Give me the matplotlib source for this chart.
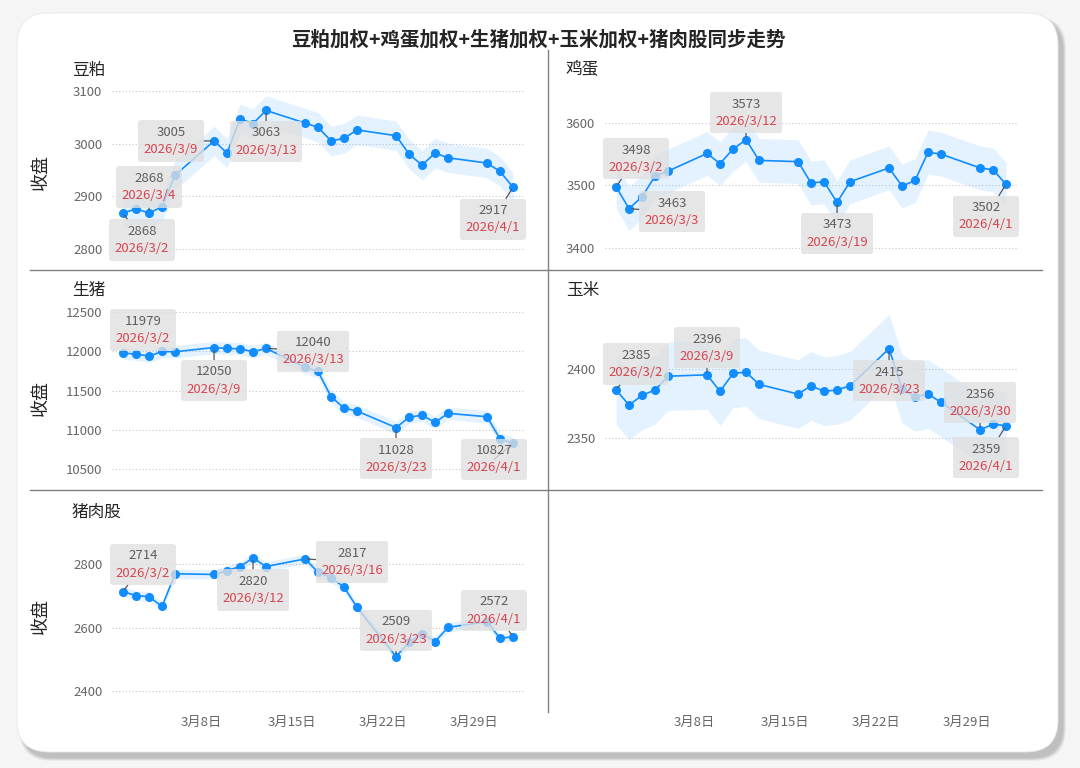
import pandas as pd
import matplotlib
matplotlib.use('Agg')
import matplotlib.pyplot as plt
import matplotlib.dates as mdates
from matplotlib.patches import FancyBboxPatch
from matplotlib.lines import Line2D
from matplotlib.offsetbox import AnnotationBbox, TextArea, VPacker
from matplotlib.ticker import MultipleLocator, FuncFormatter

plt.rcParams['font.family'] = ['Noto Sans CJK SC', 'DejaVu Sans']
plt.rcParams['axes.unicode_minus'] = False

# trading days 2026/3/2 - 2026/4/1
dates = pd.to_datetime([
    '2026-03-02', '2026-03-03', '2026-03-04', '2026-03-05', '2026-03-06',
    '2026-03-09', '2026-03-10', '2026-03-11', '2026-03-12', '2026-03-13',
    '2026-03-16', '2026-03-17', '2026-03-18', '2026-03-19', '2026-03-20',
    '2026-03-23', '2026-03-24', '2026-03-25', '2026-03-26', '2026-03-27',
    '2026-03-30', '2026-03-31', '2026-04-01'])

names = ['豆粕', '鸡蛋', '生猪', '玉米', '猪肉股']
soymeal = [2868, 2876, 2868, 2880, 2940, 3005, 2982, 3047, 3038, 3063,
           3039, 3031, 3005, 3010, 3026, 3015, 2980, 2959, 2982, 2973,
           2963, 2947, 2917]
eggs = [3498, 3463, 3482, 3515, 3523, 3551, 3535, 3558, 3573, 3540,
        3538, 3504, 3506, 3473, 3506, 3528, 3499, 3508, 3553, 3550,
        3528, 3525, 3502]
hogs = [11979, 11966, 11940, 12000, 11996, 12050, 12038, 12034, 11996, 12040,
        11796, 11745, 11422, 11278, 11239, 11028, 11159, 11188, 11095, 11210,
        11167, 10882, 10827]
corn = [2385, 2374, 2381, 2385, 2395, 2396, 2384, 2397, 2398, 2389,
        2382, 2388, 2384, 2385, 2388, 2415, 2386, 2380, 2382, 2376,
        2356, 2360, 2359]
pork_stocks = [2714, 2701, 2698, 2667, 2770, 2768, 2780, 2793, 2820, 2793,
               2817, 2775, 2758, 2728, 2664, 2509, 2554, 2581, 2556, 2601,
               2619, 2566, 2572]
series = [soymeal, eggs, hogs, corn, pork_stocks]
band_half = [28, 35, 80, 25, 15]

# layout: axes rect (pixels: left, top, right, bottom), y limits, tick step
PANEL_PX = [(112, 82, 525, 262), (605, 82, 1018, 262),
            (112, 302, 525, 482), (605, 302, 1018, 482),
            (112, 525, 525, 705)]
YLIMS = [(2775, 3117), (3378, 3665), (10334, 12631), (2318, 2449), (2356, 2924)]
YSTEP = [100, 100, 500, 50, 200]
TITLE_PX = [(72, 70), (566, 70), (72, 290), (566, 290), (72, 512)]
YLABEL_PY = [172, 398, 616]
# annotations: (index, dx, dy) in pixels, dy upward
ANNOTS = [
    [(0, 19, -27), (2, 0, 26), (5, -43, 0), (9, 0, -31), (22, -20, -32)],
    [(0, 20, 28), (1, 43, -3), (8, 0, 27), (13, 0, -31), (22, -20, -32)],
    [(0, 20, 23), (5, 0, -33), (9, 47, -3), (15, 0, -31), (22, -19, -16)],
    [(0, 20, 26), (5, 0, 27), (15, 0, -32), (20, 0, 27), (22, -20, -32)],
    [(0, 20, 27), (8, 0, -32), (10, 47, -3), (15, 0, 26), (22, -19, 26)],
]

W, H = 1080, 768
BLUE = '#118DFF'
XLIM = (mdates.date2num(dates[0]) - 0.85, mdates.date2num(dates[-1]) + 0.92)


def to_rect(px):
    l, t, r, b = px
    return [l / W, 1 - b / H, (r - l) / W, (b - t) / H]


def date_fmt(x, pos):
    d = mdates.num2date(x)
    return f'{d.month}月{d.day}日'


def style_axis(ax, show_x):
    for s in ax.spines.values():
        s.set_visible(False)
    ax.set_xlim(XLIM)
    ax.xaxis.set_major_locator(mdates.DayLocator(bymonthday=[8, 15, 22, 29]))
    ax.xaxis.set_major_formatter(FuncFormatter(date_fmt))
    ax.tick_params(axis='both', length=0, labelsize=9.5, colors='#666666')
    ax.tick_params(axis='y', pad=7)
    ax.tick_params(axis='x', pad=8)
    if not show_x:
        ax.tick_params(axis='x', labelbottom=False)
    ax.set_facecolor('none')


def draw_panel(ax, i):
    vals = series[i]
    lo = [v - band_half[i] for v in vals]
    hi = [v + band_half[i] for v in vals]
    ax.fill_between(dates, lo, hi, color=BLUE, alpha=0.11, lw=0, zorder=1)
    ax.plot(dates, vals, color=BLUE, lw=1.2, marker='o', ms=5.5, zorder=3)
    ax.set_ylim(YLIMS[i])
    ax.yaxis.set_major_locator(MultipleLocator(YSTEP[i]))
    ax.yaxis.set_major_formatter(FuncFormatter(lambda v, p: f'{v:.0f}'))
    ax.grid(axis='y', color='#c8c8c8', ls=(0, (1, 2)), lw=0.8)
    ax.set_axisbelow(True)
    for idx, dx, dy in ANNOTS[i]:
        d = dates[idx]
        val_txt = TextArea(f'{vals[idx]}', textprops=dict(fontsize=9.5, color='#605E5C'))
        date_txt = TextArea(f'{d.year}/{d.month}/{d.day}',
                            textprops=dict(fontsize=9.5, color='#D64550'))
        pack = VPacker(children=[val_txt, date_txt], align='center', pad=0, sep=3)
        ab = AnnotationBbox(pack, (d, vals[idx]), xybox=(dx, dy),
                            boxcoords='offset pixels', box_alignment=(0.5, 0.5),
                            frameon=True, pad=0.4,
                            bboxprops=dict(boxstyle='round,pad=0.4,rounding_size=0.2',
                                           fc='#e0e0e0', ec='none', alpha=0.78),
                            arrowprops=dict(arrowstyle='-', color='#555555', lw=0.9,
                                            shrinkA=0, shrinkB=2),
                            zorder=4, annotation_clip=False)
        ax.add_artist(ab)


fig = plt.figure(figsize=(W / 100, H / 100), dpi=100, facecolor='#f5f5f5')

# card shadow + card
for k in range(8):
    fig.patches.append(FancyBboxPatch(
        (0.17 + 0.05 - k * 0.004, 0.16 - 0.06 - k * 0.004), 10.41 + k * 0.008, 7.39 + k * 0.008,
        boxstyle='round,pad=0,rounding_size=0.32', fc='#8a8a8a', ec='none',
        alpha=0.08, transform=fig.dpi_scale_trans, zorder=-3))
fig.patches.append(FancyBboxPatch(
    (0.17, 0.16), 10.41, 7.39, boxstyle='round,pad=0,rounding_size=0.32',
    fc='white', ec='#e8e8e8', lw=0.6, transform=fig.dpi_scale_trans, zorder=-2))

fig.text(538 / W, 1 - 40 / H, '豆粕加权+鸡蛋加权+生猪加权+玉米加权+猪肉股同步走势',
         ha='center', va='center', fontsize=14, fontweight='bold', color='#252423')

for i, name in enumerate(names):
    ax = fig.add_axes(to_rect(PANEL_PX[i]))
    style_axis(ax, show_x=(i == 4))
    draw_panel(ax, i)
    tx, ty = TITLE_PX[i]
    fig.text(tx / W, 1 - ty / H, name, ha='left', va='center', fontsize=12, color='#252423')

# empty bottom-right cell carries the right column's date axis
ax_empty = fig.add_axes(to_rect((605, 525, 1018, 705)))
style_axis(ax_empty, show_x=True)
ax_empty.set_yticks([])

for py in YLABEL_PY:
    fig.text(41 / W, 1 - py / H, '收盘', rotation=90, ha='center', va='center',
             fontsize=13, color='#252423')

# panel dividers
fig.add_artist(Line2D([548 / W, 548 / W], [1 - 50 / H, 1 - 712 / H], color='#808080', lw=1))
for py in (270, 490):
    fig.add_artist(Line2D([30 / W, 1042 / W], [1 - py / H, 1 - py / H], color='#808080', lw=1))

fig.savefig('out.png', dpi=100, facecolor=fig.get_facecolor())
